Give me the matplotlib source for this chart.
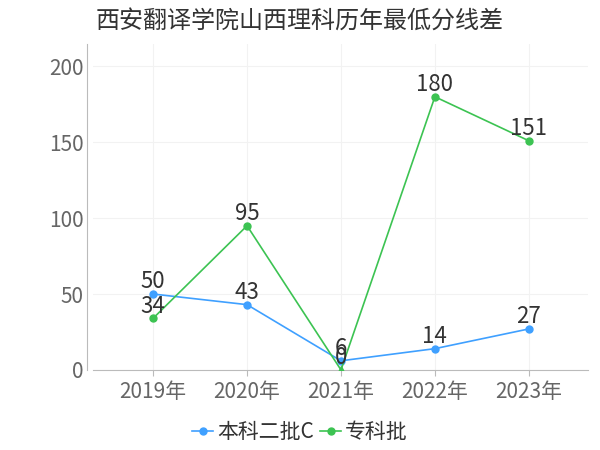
import matplotlib
matplotlib.use("Agg")
import matplotlib.pyplot as plt
from matplotlib.lines import Line2D

plt.rcParams['font.family'] = ['Noto Sans CJK SC', 'DejaVu Sans']

categories = ["2019年", "2020年", "2021年", "2022年", "2023年"]
benke = [50, 43, 6, 14, 27]
zhuanke = [34, 95, 0, 180, 151]
title = "西安翻译学院山西理科历年最低分线差"
yticks = [0, 50, 100, 150, 200]

blue = "#3fa0ff"
green = "#3cc352"

fig = plt.figure(figsize=(6, 4.5), dpi=100)
ax = fig.add_axes([0.155, 0.178, 0.825, 0.725])
x = list(range(len(categories)))

ax.plot(x, benke, color=blue, lw=1.2, marker='o', ms=5, zorder=3)
zero_idx = [i for i, v in enumerate(zhuanke) if v == 0]
other_idx = [i for i, v in enumerate(zhuanke) if v != 0]
ax.plot(x, zhuanke, color=green, lw=1.2, marker='o', ms=5, markevery=other_idx, zorder=3)
ax.plot([x[i] for i in zero_idx], [zhuanke[i] for i in zero_idx], ls='none',
        marker='^', ms=6, color=green, zorder=3)

for series in (benke, zhuanke):
    for xi, v in zip(x, series):
        ax.annotate(str(v), (xi, v), xytext=(0, 0.5), textcoords='offset points',
                    ha='center', va='bottom', fontsize=16, color='#333333', zorder=4)

ax.set_xlim(-0.64, 4.63)
ax.set_ylim(0, 215)
ax.set_xticks(x)
ax.set_xticklabels(categories)
ax.set_yticks(yticks)
ax.grid(True, color='#f2f2f2', lw=0.8)
ax.set_axisbelow(True)
for s in ['top', 'right']:
    ax.spines[s].set_visible(False)
ax.spines['left'].set_position(('outward', 4))
ax.spines['left'].set_color('#bbbbbb')
ax.spines['bottom'].set_color('#bbbbbb')
ax.tick_params(axis='y', length=0, labelsize=15, colors='#666666', pad=3)
ax.tick_params(axis='x', length=4, color='#bbbbbb', labelsize=15, labelcolor='#666666', pad=4)

fig.text(0.5, 0.955, title, ha='center', va='center', fontsize=17.3, color='#333333')

handles = [Line2D([], [], color=blue, marker='o', ms=5, lw=1.2),
           Line2D([], [], color=green, marker='o', ms=5, lw=1.2)]
fig.legend(handles, ["本科二批C", "专科批"], loc='center', bbox_to_anchor=(0.5, 0.04),
           ncol=2, frameon=False, fontsize=15, handlelength=1.0, handletextpad=0.2,
           columnspacing=0.3, labelcolor='#333333')

fig.savefig("out.png", dpi=100)
